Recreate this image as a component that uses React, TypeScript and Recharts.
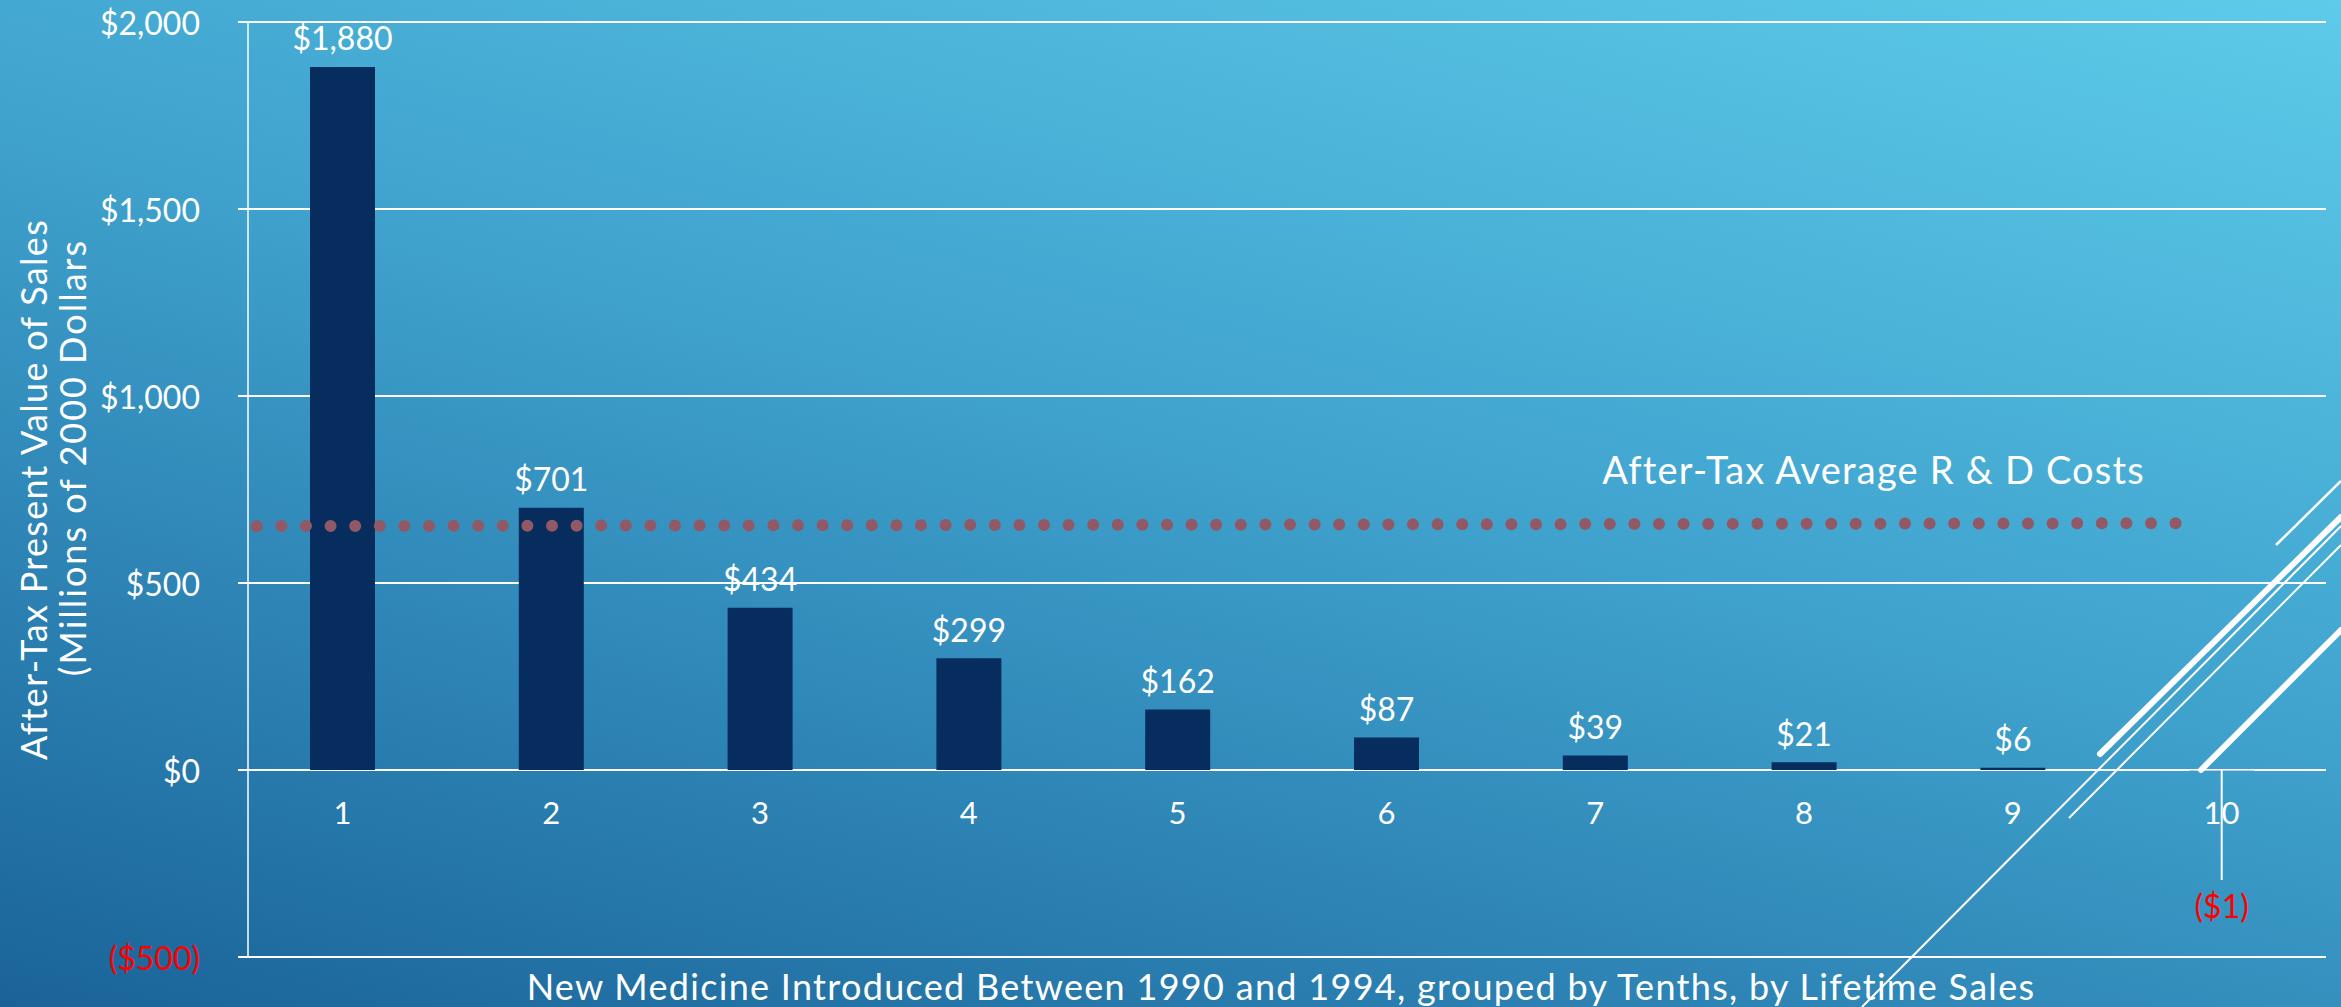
import React from "react";
import {
  ComposedChart,
  Bar,
  Line,
  XAxis,
  YAxis,
  CartesianGrid,
  LabelList,
  Label,
} from "recharts";

// tenths of new medicines, after-tax present value of sales ($M, 2000 dollars)
const tenths = ["1", "2", "3", "4", "5", "6", "7", "8", "9", "10"];
const salesValue = [1880, 701, 434, 299, 162, 87, 39, 21, 6, -1];
const yTicks = [-500, 0, 500, 1000, 1500, 2000];

// after-tax average R & D cost line (position along the axis, cost)
const rdPos = [0.09, 9.39];
const rdCost = [652, 660];

const data = tenths.map((t, i) => ({ tenth: t, value: salesValue[i] }));
const rdData = rdPos.map((p, i) => ({ pos: p, cost: rdCost[i] }));

const FONT = "Lato, 'Open Sans', sans-serif";
const W = 2341;
const H = 1007;

const money = (v: number) =>
  v < 0
    ? `($${Math.abs(v).toLocaleString("en-US")})`
    : `$${v.toLocaleString("en-US")}`;

const YTick = (props: any) => {
  const { x, y, payload } = props;
  const v = payload.value;
  return (
    <text
      x={x}
      y={y}
      textAnchor="end"
      dominantBaseline="central"
      fill={v < 0 ? "#FF0000" : "#FFFFFF"}
      fontSize={32}
      fontFamily={FONT}
    >
      {money(v)}
    </text>
  );
};

const XTick = (props: any) => {
  const { x, y, payload } = props;
  return (
    <text
      x={x}
      y={y - 145}
      textAnchor="middle"
      dominantBaseline="central"
      fill="#FFFFFF"
      fontSize={31}
      fontFamily={FONT}
    >
      {payload.value}
    </text>
  );
};

const ValueLabel = (props: any) => {
  const { x, y, width, height, value } = props;
  const cx = x + width / 2;
  if (value < 0) {
    const top = Math.min(y, y + height);
    return (
      <g>
        <line x1={cx} y1={top} x2={cx} y2={top + 110} stroke="#FFFFFF" strokeWidth={2} />
        <text
          x={cx}
          y={top + 135}
          textAnchor="middle"
          dominantBaseline="central"
          fill="#FF0000"
          fontSize={32}
          fontFamily={FONT}
        >
          {money(value)}
        </text>
      </g>
    );
  }
  return (
    <text
      x={cx}
      y={y - 29}
      textAnchor="middle"
      dominantBaseline="central"
      fill="#FFFFFF"
      fontSize={32}
      fontFamily={FONT}
    >
      {money(value)}
    </text>
  );
};

const YTitle = (props: any) => {
  const { viewBox } = props;
  const cy = viewBox.y + viewBox.height / 2;
  const common = {
    textAnchor: "middle" as const,
    dominantBaseline: "central" as const,
    fill: "#FFFFFF",
    fontSize: 36,
    fontFamily: FONT,
  };
  return (
    <g>
      <text transform={`translate(33, ${cy}) rotate(-90)`} letterSpacing={1.3} {...common}>
        After-Tax Present Value of Sales
      </text>
      <text transform={`translate(72, ${cy - 32}) rotate(-90)`} letterSpacing={2} {...common}>
        (Millions of 2000 Dollars
      </text>
    </g>
  );
};

export default function App() {
  return (
    <div
      style={{
        position: "absolute",
        left: 0,
        top: 0,
        width: W,
        height: H,
        overflow: "hidden",
        background:
          "linear-gradient(195deg, #5DCBE9 0%, #40A3CE 45%, #1A6399 100%)",
      }}
    >
      <ComposedChart
        width={W}
        height={H}
        data={data}
        margin={{ top: 22, right: 15, bottom: 0, left: 0 }}
      >
        <CartesianGrid
          horizontal
          vertical={false}
          stroke="#FFFFFF"
          strokeWidth={2}
        />
        <XAxis
          dataKey="tenth"
          height={50}
          padding={{ left: -10, right: 0 }}
          axisLine={false}
          tickLine={false}
          tickSize={0}
          tickMargin={0}
          interval={0}
          tick={<XTick />}
        >
          <Label
            value="New Medicine Introduced Between 1990 and 1994, grouped by Tenths, by Lifetime Sales"
            position="center"
            dx={-6}
            dy={5}
            fill="#FFFFFF"
            fontSize={36}
            letterSpacing={1.3}
            fontFamily={FONT}
          />
        </XAxis>
        <XAxis
          xAxisId="rd"
          type="number"
          dataKey="pos"
          domain={[0, 10]}
          padding={{ left: -10, right: 0 }}
          hide
        />
        <YAxis
          width={248}
          domain={[-500, 2000]}
          ticks={yTicks}
          interval={0}
          axisLine={{ stroke: "rgba(255,255,255,0.75)", strokeWidth: 2 }}
          tickLine={{ stroke: "#FFFFFF", strokeWidth: 2 }}
          tickSize={10}
          tickMargin={38}
          tick={<YTick />}
          label={<YTitle />}
        />
        <Bar
          dataKey="value"
          fill="#062D5E"
          barSize={65}
          isAnimationActive={false}
        >
          <LabelList dataKey="value" content={<ValueLabel />} />
        </Bar>
        <Line
          xAxisId="rd"
          data={rdData}
          dataKey="cost"
          type="linear"
          stroke="#915965"
          strokeWidth={12}
          strokeLinecap="round"
          strokeDasharray="0 24.6"
          dot={false}
          activeDot={false}
          isAnimationActive={false}
        />
      </ComposedChart>
      <svg
        width={W}
        height={H}
        style={{ position: "absolute", left: 0, top: 0, pointerEvents: "none" }}
      >
        <text
          x={2145}
          y={469}
          textAnchor="end"
          dominantBaseline="central"
          fill="#FFFFFF"
          fontSize={38}
          letterSpacing={1.2}
          fontFamily={FONT}
        >
          After-Tax Average R &amp; D Costs
        </text>
        <g stroke="#FFFFFF" fill="none">
          <line x1={2276} y1={545} x2={2341} y2={481} strokeWidth={2.5} />
          <line x1={2100} y1={754} x2={2341} y2={517} strokeWidth={6} strokeLinecap="round" />
          <line x1={1862} y1={1007} x2={2341} y2={526} strokeWidth={2} />
          <line x1={2069} y1={818} x2={2341} y2={545} strokeWidth={2} />
          <line x1={2201} y1={770} x2={2341} y2={630} strokeWidth={6} strokeLinecap="round" />
        </g>
      </svg>
    </div>
  );
}
